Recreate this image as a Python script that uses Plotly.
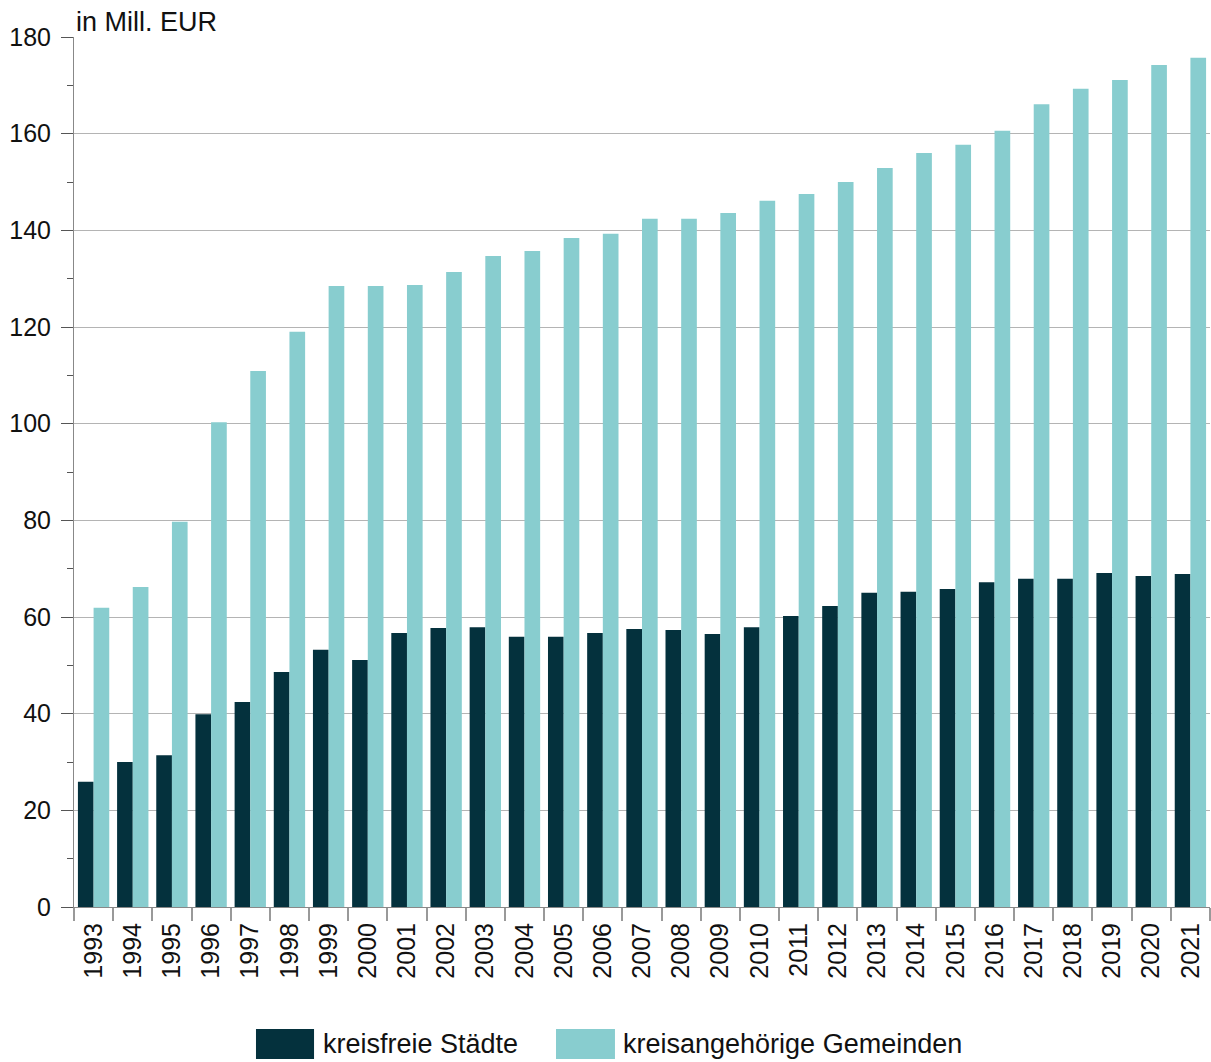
import plotly.graph_objects as go

# Jahre und Werte (in Mill. EUR)
years = [str(y) for y in range(1993, 2022)]
kreisfreie_staedte = [25.9, 30.0, 31.4, 39.9, 42.4, 48.6, 53.2, 51.1, 56.7, 57.7,
                      57.9, 55.9, 55.9, 56.7, 57.5, 57.3, 56.5, 57.9, 60.2, 62.3,
                      65.0, 65.2, 65.8, 67.2, 67.9, 67.9, 69.1, 68.5, 68.9]
kreisangehoerige_gemeinden = [61.9, 66.2, 79.7, 100.3, 110.9, 119.0, 128.5, 128.5, 128.7, 131.4,
                              134.7, 135.7, 138.4, 139.3, 142.4, 142.4, 143.6, 146.1, 147.5, 150.0,
                              152.9, 156.0, 157.7, 160.6, 166.1, 169.3, 171.1, 174.2, 175.7]
series_names = ["kreisfreie Städte", "kreisangehörige Gemeinden"]
colors = ["#04313d", "#88cdcf"]
y_ticks = list(range(0, 181, 20))

FONT = "Liberation Sans, Arial, sans-serif"

fig = go.Figure()
for name, vals, col in zip(series_names, [kreisfreie_staedte, kreisangehoerige_gemeinden], colors):
    fig.add_trace(go.Bar(x=years, y=vals, name=name, marker=dict(color=col, line=dict(width=0)),
                         showlegend=False))

fig.update_layout(
    width=1211, height=1062,
    margin=dict(l=74, r=1, t=37, b=155),
    paper_bgcolor="white", plot_bgcolor="white",
    barmode="group", bargap=0.2, bargroupgap=0,
    font=dict(family=FONT, size=25, color="#111111"),
)

fig.update_xaxes(
    type="category", tickangle=-90, tickfont=dict(size=25, color="#111111"),
    showline=True, linecolor="#888888", linewidth=1,
    ticks="outside", tickson="boundaries", ticklen=13, tickcolor="#999999", tickwidth=1.5,
    ticklabelstandoff=5,
    showgrid=False,
)
fig.update_yaxes(
    range=[0, 180], tickvals=y_ticks, tickfont=dict(size=25, color="#111111"),
    showline=True, linecolor="#888888", linewidth=1,
    ticks="outside", ticklen=12, tickcolor="#555555", tickwidth=1,
    ticklabelstandoff=5,
    showgrid=True, gridcolor="#b4b4b4", gridwidth=1.2,
    minor=dict(dtick=10, ticks="outside", ticklen=6, tickcolor="#555555", showgrid=False),
    zeroline=False,
)

# Einheit über der y-Achse
fig.add_annotation(text="in Mill. EUR", xref="paper", yref="paper", x=0.0, y=1.0172,
                   xanchor="left", yanchor="middle", showarrow=False,
                   font=dict(family=FONT, size=27, color="#111111"))

# Legende unterhalb des Diagramms
legend_items = [(0.1602, 0.2113, 0.2175), (0.4243, 0.4762, 0.4815)]
for (x0, x1, xt), name, col in zip(legend_items, series_names, colors):
    fig.add_shape(type="rect", xref="paper", yref="paper", x0=x0, x1=x1, y0=-0.1747, y1=-0.1402,
                  fillcolor=col, line=dict(width=0))
    fig.add_annotation(text=name, xref="paper", yref="paper", x=xt, y=-0.1575,
                       xanchor="left", yanchor="middle", showarrow=False,
                       font=dict(family=FONT, size=27, color="#111111"))

fig.write_html("out.html")
